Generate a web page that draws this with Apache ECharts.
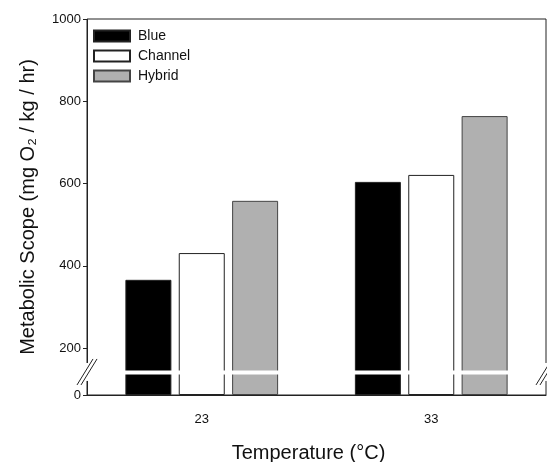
<!DOCTYPE html>
<html>
<head>
<meta charset="utf-8">
<script src="https://cdn.jsdelivr.net/npm/echarts@6/dist/echarts.min.js"></script>
<style>
  html, body { margin: 0; padding: 0; background: #fff; }
  #main { width: 547px; height: 462px; }
</style>
</head>
<body>
<div id="main"></div>
<script>
const categories = ['23', '33']
const blue = [366, 604]
const channel = [431, 621]
const hybrid = [558, 764]
const yTicks = [0, 200, 400, 600, 800, 1000]
const axisBreak = { start: 51, end: 147, gap: 10 }

const chart = echarts.init(document.getElementById('main'))
const font = 'Liberation Sans, Arial, sans-serif'

const barBase = {
  type: 'bar',
  barWidth: 46,
  barGap: '16%'
}

const option = {
  animation: false,
  backgroundColor: '#fff',
  textStyle: { fontFamily: font, color: '#111' },
  grid: {
    left: 87, right: 1, top: 19, bottom: 67,
    outerBoundsMode: 'none',
    containLabel: false,
    show: true, borderColor: '#222', borderWidth: 1, backgroundColor: 'transparent'
  },
  legend: {
    orient: 'vertical',
    left: 88, top: 24,
    itemWidth: 36, itemHeight: 11, itemGap: 6,
    icon: 'rect',
    textStyle: { fontSize: 14, fontFamily: font, color: '#111', padding: [0, 0, 0, 3] },
    data: ['Blue', 'Channel', 'Hybrid']
  },
  xAxis: {
    type: 'category',
    data: categories,
    name: 'Temperature (°C)',
    nameLocation: 'middle',
    nameGap: 48,
    nameTextStyle: { fontSize: 20, fontFamily: font, color: '#111', padding: [0, 16, 0, 0] },
    axisLine: { lineStyle: { color: '#222' } },
    axisTick: { alignWithLabel: true, length: 6, lineStyle: { color: '#222' } },
    axisLabel: { fontSize: 13, color: '#111', margin: 18 }
  },
  yAxis: {
    type: 'value',
    min: 0, max: 1000, interval: 200,
    breaks: [axisBreak],
    breakArea: {
      show: true,
      itemStyle: { color: '#fff', borderColor: '#fff', borderWidth: 0, opacity: 1 },
      zigzagAmplitude: 0
    },
    name: 'Metabolic Scope (mg O₂ / kg / hr)',
    nameLocation: 'middle',
    nameGap: 49,
    nameTextStyle: { fontSize: 20, fontFamily: font, color: '#111' },
    axisLine: { show: true, lineStyle: { color: '#222' } },
    axisTick: { show: true, length: 4, customValues: yTicks, lineStyle: { color: '#222' } },
    splitLine: { show: false },
    axisLabel: {
      fontSize: 13, color: '#111', margin: 6,
      customValues: yTicks,
      formatter: v => String(v)
    }
  },
  series: [
    Object.assign({}, barBase, {
      name: 'Blue', data: blue,
      itemStyle: { color: '#000', borderColor: '#222', borderWidth: 1 }
    }),
    Object.assign({}, barBase, {
      name: 'Channel', data: channel,
      itemStyle: { color: '#fff', borderColor: '#222', borderWidth: 1 }
    }),
    Object.assign({}, barBase, {
      name: 'Hybrid', data: hybrid,
      itemStyle: { color: '#b0b0b0', borderColor: '#444', borderWidth: 1 }
    })
  ]
}

chart.setOption(option)

// "//" break marks on left and right frame
const breakMid = (axisBreak.start + axisBreak.end) / 2
const yPix = chart.convertToPixel({ yAxisIndex: 0 }, breakMid)
const leftX = 87, rightX = 546
function slashes (cx) {
  return [-2, 2].map(d => ({
    type: 'line',
    shape: { x1: cx - 8 + d, y1: yPix + 13, x2: cx + 8 + d, y2: yPix - 13 },
    style: { stroke: '#222', lineWidth: 1 },
    z: 200
  }))
}
function cover (cx) {
  return {
    type: 'rect',
    shape: { x: cx - 3, y: yPix - 9, width: 6, height: 18 },
    style: { fill: '#fff' },
    z: 199
  }
}
chart.setOption({
  graphic: [cover(leftX), cover(rightX)].concat(slashes(leftX), slashes(rightX))
})
</script>
</body>
</html>
